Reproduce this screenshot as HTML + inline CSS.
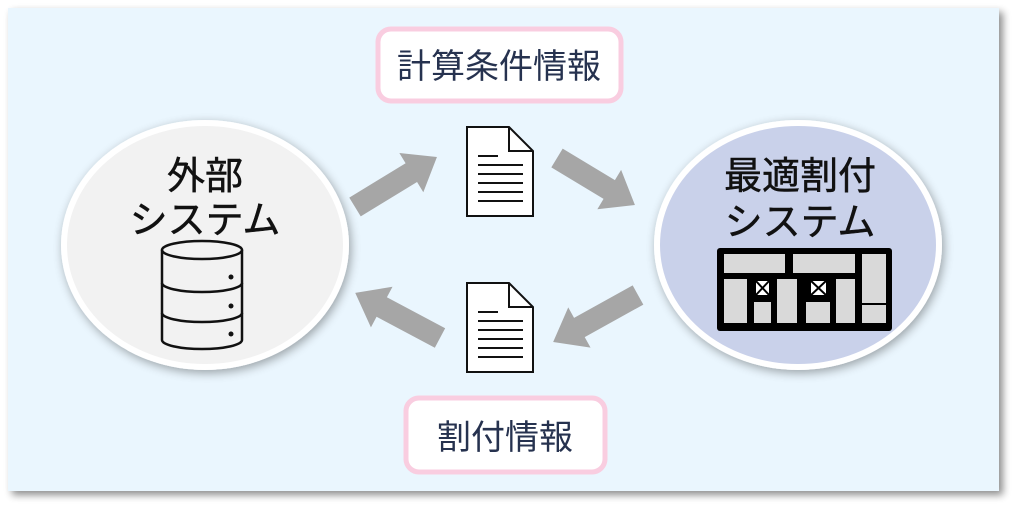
<!DOCTYPE html>
<html><head><meta charset="utf-8"><style>
html,body{margin:0;padding:0;background:#fff;width:1024px;height:517px;overflow:hidden}
</style></head><body>
<svg width="1024" height="517" viewBox="0 0 1024 517" xmlns="http://www.w3.org/2000/svg" font-family="'Liberation Sans','Noto Sans CJK JP',sans-serif">
<defs>
<filter id="sh" x="-10%" y="-10%" width="120%" height="120%"><feGaussianBlur in="SourceAlpha" stdDeviation="4"/><feOffset dx="4" dy="4"/><feComponentTransfer><feFuncA type="linear" slope="0.45"/></feComponentTransfer><feMerge><feMergeNode/><feMergeNode in="SourceGraphic"/></feMerge></filter>
<filter id="es" x="-20%" y="-20%" width="140%" height="140%"><feGaussianBlur in="SourceAlpha" stdDeviation="5"/><feOffset dx="2" dy="3"/><feComponentTransfer><feFuncA type="linear" slope="0.35"/></feComponentTransfer><feMerge><feMergeNode/><feMergeNode in="SourceGraphic"/></feMerge></filter>
</defs>
<rect x="8" y="8" width="991" height="483" fill="#eaf6fe" filter="url(#sh)"/>
<ellipse cx="205" cy="245" rx="141" ry="122" fill="#f2f2f2" stroke="#fff" stroke-width="6" filter="url(#es)"/>
<ellipse cx="798" cy="245" rx="141" ry="122" fill="#c9d1ea" stroke="#fff" stroke-width="6" filter="url(#es)"/>
<g font-size="38" fill="#111" text-anchor="middle" stroke="#111" stroke-width="0.5">
<text x="205" y="189">外部</text>
<text x="205" y="233">システム</text>
<text x="800" y="189">最適割付</text>
<text x="800" y="235">システム</text>
</g>
<g fill="none" stroke="#111" stroke-width="2.5">
<ellipse cx="202" cy="250" rx="40" ry="9"/>
<path d="M162 250 V340 A40 9 0 0 0 242 340 V250"/>
<path d="M162 283 A40 9 0 0 0 242 283"/>
<path d="M162 313 A40 9 0 0 0 242 313"/>
</g>
<g fill="#111"><circle cx="231" cy="277" r="2.5"/><circle cx="231" cy="306" r="2.5"/><circle cx="231" cy="334" r="2.5"/></g>
<rect x="717" y="248" width="175" height="83" rx="3" fill="#000"/>
<g fill="#d9d9d9">
<rect x="724" y="254" width="61" height="19"/>
<rect x="793" y="254" width="62" height="19"/>
<rect x="862" y="254" width="24" height="49"/>
<rect x="724" y="279" width="23" height="44"/>
<rect x="754" y="302" width="17" height="21"/>
<rect x="777" y="279" width="20" height="44"/>
<rect x="806" y="302" width="24" height="21"/>
<rect x="836" y="279" width="19" height="44"/>
<rect x="862" y="305" width="24" height="18"/>
</g>
<g fill="#fff" stroke="#000" stroke-width="2">
<rect x="755" y="280" width="15" height="16"/><path d="M755 280 L770 296 M770 280 L755 296"/>
<rect x="810" y="280" width="17" height="16"/><path d="M810 280 L827 296 M827 280 L810 296"/>
</g>
<rect x="378" y="29" width="243" height="72" rx="13" fill="#fff" stroke="#f9cde0" stroke-width="5"/>
<text x="499" y="78" font-size="34" fill="#26324f" text-anchor="middle">計算条件情報</text>
<rect x="406" y="398" width="199" height="74" rx="13" fill="#fff" stroke="#f9cde0" stroke-width="5"/>
<text x="505" y="449" font-size="34" fill="#26324f" text-anchor="middle">割付情報</text>
<g id="doc" fill="#fff" stroke="#111" stroke-width="2">
<path d="M467 127 H509 L533 151 V216 H467 Z"/>
<path d="M509 127 V151 H533" fill="none"/>
<path d="M478 156 H498 M478 165 H523 M478 174 H523 M478 183 H523 M478 192 H523 M478 201 H523" fill="none"/>
</g>
<use href="#doc" transform="translate(0,156)"/>
<g fill="#a6a6a6">
<polygon points="0,-11 66,-11 66,-23 96,0 66,23 66,11 0,11" transform="translate(355,207) rotate(-31.4)"/>
<polygon points="0,-11 61,-11 61,-23 91,0 61,23 61,11 0,11" transform="translate(557,158) rotate(31.1)"/>
<polygon points="0,-11 67,-11 67,-23 97,0 67,23 67,11 0,11" transform="translate(638,295) rotate(151)"/>
<polygon points="0,-11 66,-11 66,-23 96,0 66,23 66,11 0,11" transform="translate(440,338) rotate(-152)"/>
</g>
</svg>
</body></html>
